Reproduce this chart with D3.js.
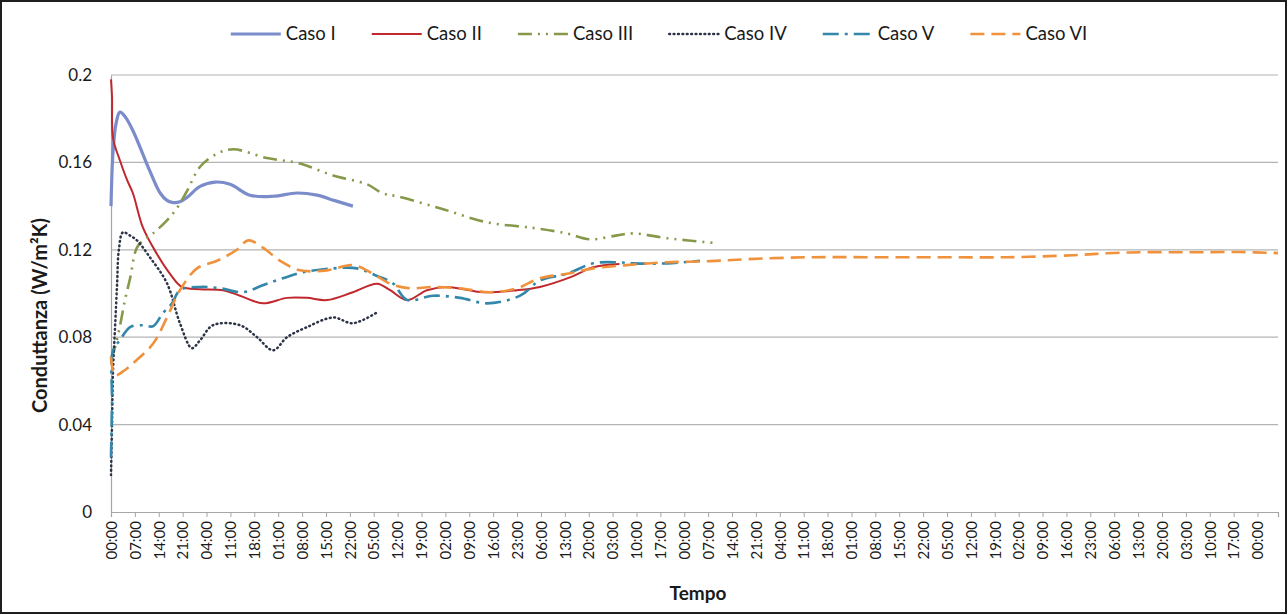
<!DOCTYPE html>
<html>
<head>
<meta charset="utf-8">
<script src="https://cdn.jsdelivr.net/npm/d3@7"></script>
<style>
  html, body { margin: 0; padding: 0; background: #fff; }
  svg { display: block; }
  text { font-family: Lato, "Open Sans", sans-serif; fill: #1a1a1a; }
</style>
</head>
<body>
<svg id="chart" width="1288" height="615"></svg>
<script>
// ---- data -------------------------------------------------------------
const seriesNames = ["Caso I", "Caso II", "Caso III", "Caso IV", "Caso V", "Caso VI"];

// category labels, one every 7 hours
const timeLabels = [
  "00:00","07:00","14:00","21:00","04:00","11:00","18:00","01:00","08:00","15:00",
  "22:00","05:00","12:00","19:00","02:00","09:00","16:00","23:00","06:00","13:00",
  "20:00","03:00","10:00","17:00","00:00","07:00","14:00","21:00","04:00","11:00",
  "18:00","01:00","08:00","15:00","22:00","05:00","12:00","19:00","02:00","09:00",
  "16:00","23:00","06:00","13:00","20:00","03:00","10:00","17:00","00:00"
];
const labelStepHours = 7;
const hourSpan = [0, 342];

const yTicks = [0, 0.04, 0.08, 0.12, 0.16, 0.2];
const yTickLabels = ["0", "0.04", "0.08", "0.12", "0.16", "0.2"];

// [elapsed hours, conductance W/m²K]
const casoI = [[0,0.140],[0.6,0.165],[1.5,0.178],[2.6,0.183],[4.1,0.181],[6.4,0.1746],[11.4,0.156],
  [14.4,0.146],[16.4,0.1426],[17.9,0.1417],[20.2,0.142],[22.3,0.144],[26.1,0.149],[30.5,0.151],
  [34.9,0.150],[40.7,0.145],[47.5,0.1445],[54.5,0.146],[60.4,0.145],[65.6,0.1425],[70.9,0.140]];

const casoII = [[0,0.198],[0.3,0.19],[0.6,0.171],[2.6,0.161],[4.7,0.152],[6.4,0.146],[9.4,0.130],
  [13.5,0.118],[17.3,0.109],[20.8,0.103],[26.1,0.102],[32.8,0.1015],[37.8,0.099],[44.5,0.0955],
  [51.6,0.098],[57.4,0.098],[63.3,0.097],[70.9,0.1006],[78,0.1045],[81.8,0.1015],[86.8,0.097],
  [92.6,0.1015],[98.5,0.103],[109,0.1006],[119,0.1015],[125.7,0.103],[134.5,0.1074],[141.3,0.112],
  [149,0.1135]];

const casoIII = [[0,0.07],[1.2,0.0755],[2.6,0.085],[4.1,0.097],[5.6,0.107],[7.6,0.121],[10,0.125],
  [12.3,0.1275],[16.4,0.1335],[19.3,0.139],[22.3,0.147],[26.1,0.158],[31.1,0.164],[35.8,0.166],
  [45.7,0.162],[55.4,0.1595],[65.1,0.154],[75,0.150],[79.7,0.1458],[83.8,0.1445],[96.4,0.139],
  [110.2,0.1326],[123.7,0.130],[133.6,0.1275],[140.4,0.1248],[148.3,0.1266],[153,0.1275],
  [163,0.1253],[177.6,0.123]];

const casoIV = [[0,0.017],[0.3,0.04],[0.6,0.065],[1.2,0.085],[1.8,0.105],[2.3,0.12],[3.5,0.128],
  [5.6,0.1265],[7.6,0.1243],[11.4,0.1166],[16.4,0.1047],[20.2,0.0864],[23.7,0.075],[26.1,0.0786],
  [29.9,0.0855],[37.8,0.0855],[42.8,0.080],[47.5,0.074],[51.6,0.080],[57.4,0.0846],[65.1,0.089],
  [70.9,0.0864],[78,0.0914]];

const casoV = [[0,0.025],[0.3,0.05],[0.6,0.074],[2.6,0.0786],[5.6,0.0846],[9.4,0.0855],[12.3,0.085],
  [15.2,0.091],[17.9,0.0955],[20.2,0.1015],[26.1,0.103],[31.9,0.1024],[38.7,0.1006],[44.5,0.1038],
  [50.4,0.107],[56.3,0.1097],[65.1,0.1115],[72.1,0.1115],[78,0.108],[82.6,0.1047],[86.8,0.097],
  [94.4,0.099],[102.3,0.098],[110.2,0.0955],[119.9,0.099],[125.7,0.106],[133.6,0.109],
  [141.3,0.1138],[148.3,0.1143],[153,0.1138],[163,0.1138],[172.6,0.115]];

const casoVI = [[0,0.071],[1.2,0.0626],[4.1,0.065],[6.4,0.068],[12.3,0.077],[16.4,0.089],[20.2,0.1015],
  [25.2,0.1115],[31.1,0.115],[36.9,0.12],[40.2,0.1243],[44.5,0.121],[49.5,0.115],[55.4,0.1106],
  [63.3,0.1106],[70.9,0.113],[76.8,0.109],[81.8,0.1045],[87.6,0.1024],[94.4,0.103],[102.3,0.1024],
  [111.1,0.1006],[119,0.1024],[125.7,0.107],[133.6,0.109],[141.3,0.1115],[151.2,0.113],[163,0.1143],
  [175.6,0.1148],[186.4,0.1157],[204.9,0.1166],[223.3,0.1166],[243,0.1166],[262.6,0.1166],
  [282,0.1175],[291.9,0.1184],[301.6,0.1189],[311.3,0.1189],[320,0.1189],[330.9,0.119],[342,0.1185]];

const seriesData = [casoI, casoII, casoIII, casoIV, casoV, casoVI];

// ---- styles -----------------------------------------------------------
const seriesStyle = [
  { color: "#7b8cca", width: 3.2, dash: null },
  { color: "#c0282d", width: 2,   dash: null },
  { color: "#86994a", width: 2.6, dash: "14,6,2,6,2,6" },
  { color: "#2d3447", width: 2.5, dash: "0.8,3.6", cap: "round" },
  { color: "#3287aa", width: 2.6, dash: "16,6,3,6" },
  { color: "#f0913c", width: 2.6, dash: "14,7" }
];

// ---- layout -----------------------------------------------------------
const W = 1288, H = 615;
const plot = { left: 111, right: 1278, top: 75, bottom: 512 };

const svg = d3.select("#chart");

// outer frame
svg.append("rect")
  .attr("x", 1).attr("y", 1).attr("width", W - 3).attr("height", H - 3)
  .attr("fill", "#fff").attr("stroke", "#1e1e1e").attr("stroke-width", 2);

const x = d3.scaleLinear().domain(hourSpan).range([plot.left, plot.right]);
const y = d3.scaleLinear().domain([0, 0.2]).range([plot.bottom, plot.top]);

// horizontal gridlines
svg.append("g").selectAll("line")
  .data(yTicks.filter(v => v > 0))
  .join("line")
  .attr("x1", plot.left).attr("x2", plot.right)
  .attr("y1", d => y(d)).attr("y2", d => y(d))
  .attr("stroke", "#b4b4b4").attr("stroke-width", 1.2);

// y axis
const yAxis = d3.axisLeft(y).tickValues(yTicks)
  .tickFormat((d, i) => yTickLabels[i]).tickSize(0).tickPadding(19);
const gy = svg.append("g").attr("transform", `translate(${plot.left},0)`).call(yAxis);
gy.select(".domain").attr("stroke", "#a6a6a6").attr("stroke-width", 1.2);
gy.selectAll("text").style("font-size", "17px").attr("fill", "#333");

// x axis with a label every 7 hours
const labelHours = timeLabels.map((_, i) => i * labelStepHours);
const xAxis = d3.axisBottom(x).tickValues(labelHours)
  .tickFormat((d, i) => timeLabels[i]).tickSize(5).tickPadding(4);
const gx = svg.append("g").attr("transform", `translate(0,${plot.bottom})`).call(xAxis);
gx.select(".domain").attr("stroke", "#a6a6a6").attr("stroke-width", 1.2);
gx.selectAll(".tick line").attr("stroke", "#a6a6a6");
gx.selectAll("text")
  .style("font-size", "15px").attr("fill", "#333")
  .attr("text-anchor", "end")
  .attr("transform", "rotate(-90)")
  .attr("x", -9).attr("y", 0).attr("dy", "0.35em");

// axis titles
svg.append("text")
  .attr("transform", `translate(40,${(plot.top + plot.bottom) / 2 + 22}) rotate(-90)`)
  .attr("text-anchor", "middle").attr("dy", "0.35em")
  .style("font-size", "20px").style("font-weight", "bold")
  .text("Conduttanza (W/m²K)");

svg.append("text")
  .attr("x", 698).attr("y", 600)
  .attr("text-anchor", "middle")
  .style("font-size", "19px").style("font-weight", "bold")
  .text("Tempo");

// series lines
const line = d3.line()
  .x(d => x(d[0])).y(d => y(d[1]))
  .curve(d3.curveCatmullRom.alpha(0.5));

svg.append("g").selectAll("path")
  .data(seriesData)
  .join("path")
  .attr("d", line)
  .attr("fill", "none")
  .attr("stroke", (d, i) => seriesStyle[i].color)
  .attr("stroke-width", (d, i) => seriesStyle[i].width)
  .attr("stroke-dasharray", (d, i) => seriesStyle[i].dash)
  .attr("stroke-linecap", (d, i) => seriesStyle[i].cap || "butt")
  .attr("stroke-linejoin", "round");

// legend
const legend = svg.append("g").attr("transform", "translate(0,34)");
const swatchLen = 50, swatchGap = 5, itemGap = 36;
const items = legend.selectAll("g").data(seriesNames).join("g");
items.append("line")
  .attr("x1", 0).attr("x2", swatchLen).attr("y1", 0).attr("y2", 0)
  .attr("stroke", (d, i) => seriesStyle[i].color)
  .attr("stroke-width", (d, i) => seriesStyle[i].width)
  .attr("stroke-dasharray", (d, i) => seriesStyle[i].dash)
  .attr("stroke-linecap", (d, i) => seriesStyle[i].cap || "butt");
items.append("text")
  .attr("x", swatchLen + swatchGap).attr("dy", "0.35em")
  .style("font-size", "18.5px")
  .text(d => d);

let widths = [];
items.each(function () {
  widths.push(swatchLen + swatchGap + d3.select(this).select("text").node().getComputedTextLength());
});
const total = d3.sum(widths) + itemGap * (widths.length - 1);
let cx = 659 - total / 2;
items.attr("transform", (d, i) => {
  const t = `translate(${cx},0)`;
  cx += widths[i] + itemGap;
  return t;
});
</script>
</body>
</html>
